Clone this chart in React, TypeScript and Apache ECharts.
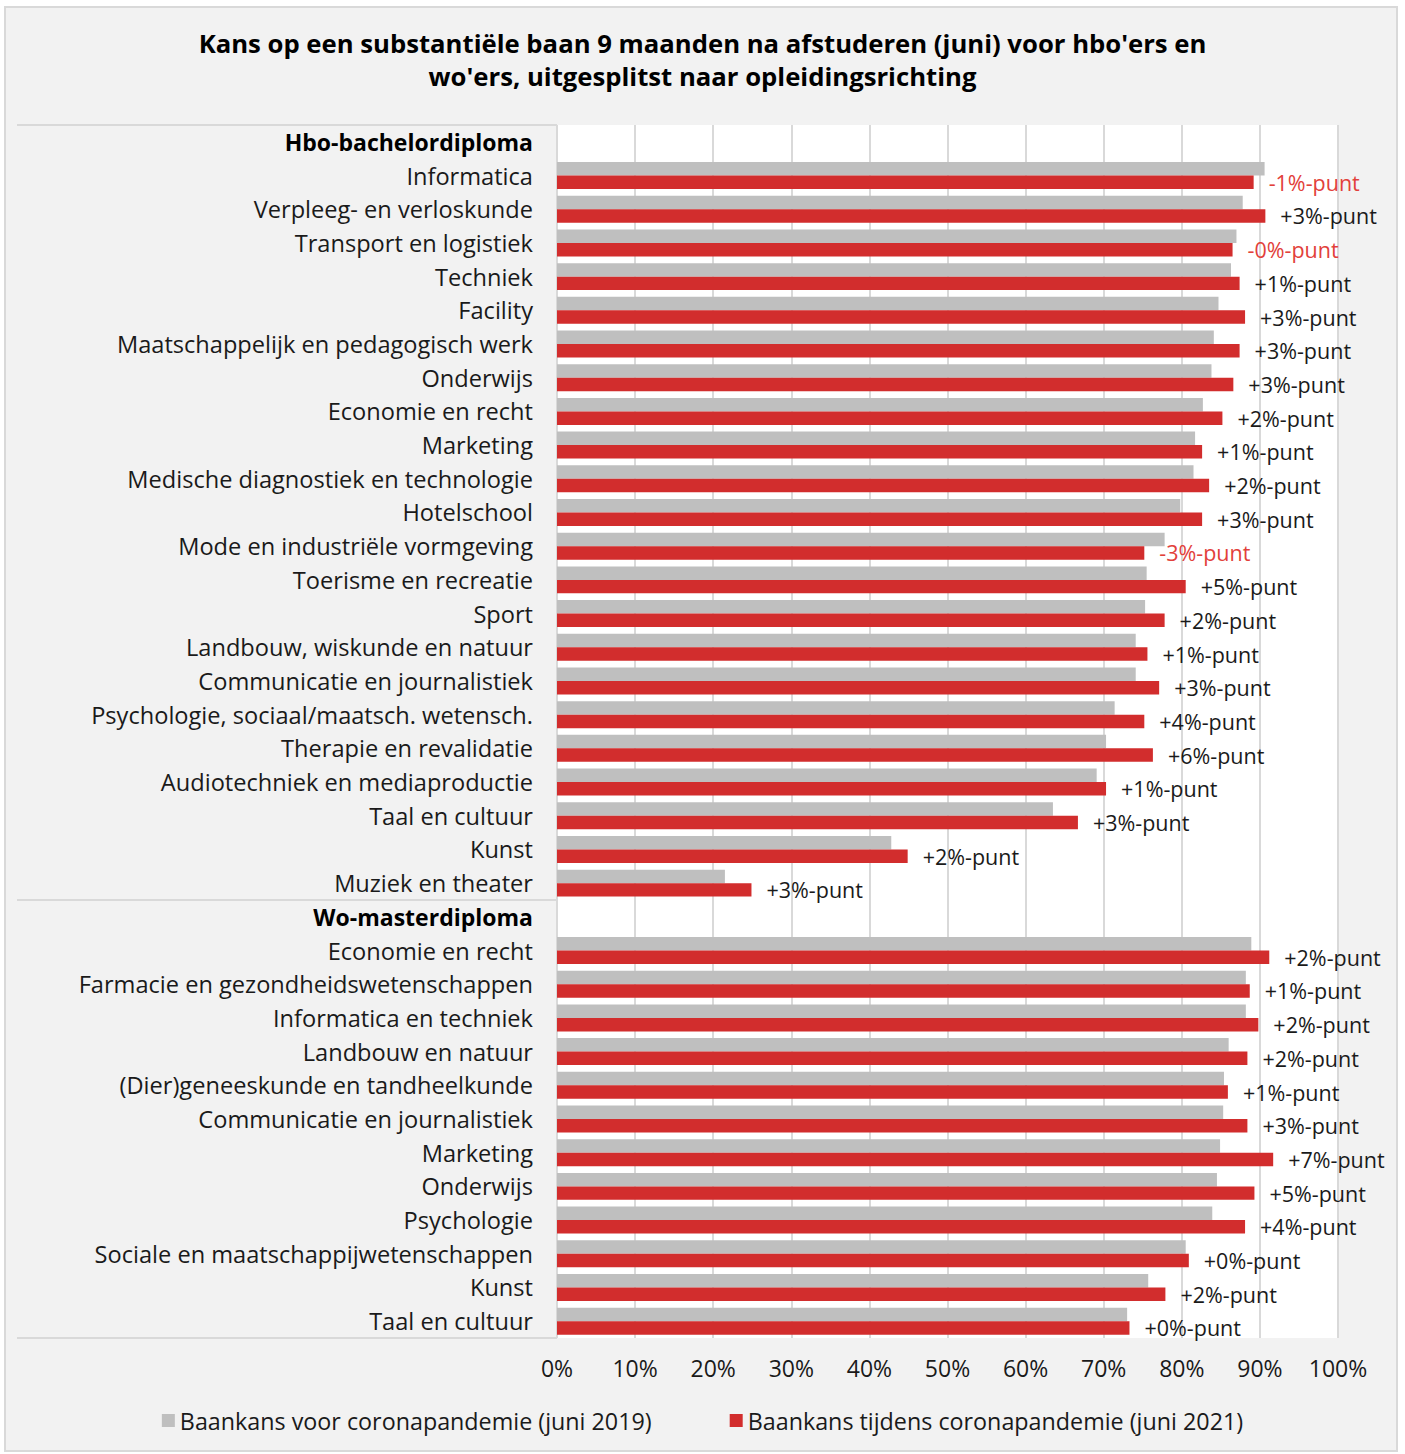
import React, { useEffect, useRef } from "react";
import * as echarts from "echarts";

const TITLE_LINES = [
  "Kans op een substantiële baan 9 maanden na afstuderen (juni) voor hbo'ers en",
  "wo'ers, uitgesplitst naar opleidingsrichting",
];

const HBO_HEADER = "Hbo-bachelordiploma";
const HBO_CATEGORIES = [
  "Informatica",
  "Verpleeg- en verloskunde",
  "Transport en logistiek",
  "Techniek",
  "Facility",
  "Maatschappelijk en pedagogisch werk",
  "Onderwijs",
  "Economie en recht",
  "Marketing",
  "Medische diagnostiek en technologie",
  "Hotelschool",
  "Mode en industriële vormgeving",
  "Toerisme en recreatie",
  "Sport",
  "Landbouw, wiskunde en natuur",
  "Communicatie en journalistiek",
  "Psychologie, sociaal/maatsch. wetensch.",
  "Therapie en revalidatie",
  "Audiotechniek en mediaproductie",
  "Taal en cultuur",
  "Kunst",
  "Muziek en theater",
];
const HBO_2019 = [90.6, 87.8, 87.0, 86.3, 84.7, 84.1, 83.8, 82.7, 81.7, 81.5, 79.8, 77.8, 75.5, 75.3, 74.1, 74.1, 71.4, 70.3, 69.1, 63.5, 42.8, 21.5];
const HBO_2021 = [89.2, 90.7, 86.5, 87.4, 88.1, 87.4, 86.6, 85.2, 82.6, 83.5, 82.6, 75.2, 80.5, 77.8, 75.6, 77.1, 75.2, 76.3, 70.3, 66.7, 44.9, 24.9];
const HBO_CHANGE = ["-1%-punt", "+3%-punt", "-0%-punt", "+1%-punt", "+3%-punt", "+3%-punt", "+3%-punt", "+2%-punt", "+1%-punt", "+2%-punt", "+3%-punt", "-3%-punt", "+5%-punt", "+2%-punt", "+1%-punt", "+3%-punt", "+4%-punt", "+6%-punt", "+1%-punt", "+3%-punt", "+2%-punt", "+3%-punt"];

const WO_HEADER = "Wo-masterdiploma";
const WO_CATEGORIES = [
  "Economie en recht",
  "Farmacie en gezondheidswetenschappen",
  "Informatica en techniek",
  "Landbouw en natuur",
  "(Dier)geneeskunde en tandheelkunde",
  "Communicatie en journalistiek",
  "Marketing",
  "Onderwijs",
  "Psychologie",
  "Sociale en maatschappijwetenschappen",
  "Kunst",
  "Taal en cultuur",
];
const WO_2019 = [88.9, 88.2, 88.2, 86.0, 85.4, 85.3, 84.9, 84.5, 83.9, 80.5, 75.7, 73.0];
const WO_2021 = [91.2, 88.7, 89.8, 88.4, 85.9, 88.4, 91.7, 89.3, 88.1, 80.9, 77.9, 73.3];
const WO_CHANGE = ["+2%-punt", "+1%-punt", "+2%-punt", "+2%-punt", "+1%-punt", "+3%-punt", "+7%-punt", "+5%-punt", "+4%-punt", "+0%-punt", "+2%-punt", "+0%-punt"];

const X_TICKS = [0, 10, 20, 30, 40, 50, 60, 70, 80, 90, 100];
const LEGEND_2019 = "Baankans voor coronapandemie (juni 2019)";
const LEGEND_2021 = "Baankans tijdens coronapandemie (juni 2021)";

const FONT = "Open Sans";
const GRAY = "#bfbfbf";
const RED = "#d22d2d";
const NEG_RED = "#e2403a";
const TEXT = "#1a1a1a";

export default function App() {
  const ref = useRef<HTMLDivElement>(null);
  useEffect(() => {
    if (!ref.current) return;
    const chart = echarts.init(ref.current, undefined, { renderer: "svg" });
    const categories = [HBO_HEADER, ...HBO_CATEGORIES, WO_HEADER, ...WO_CATEGORIES];
    const headers = new Set([0, HBO_CATEGORIES.length + 1]);
    const pre: any[] = ["-", ...HBO_2019, "-", ...WO_2019];
    const post: any[] = ["-", ...HBO_2021, "-", ...WO_2021];
    const changes: string[] = ["", ...HBO_CHANGE, "", ...WO_CHANGE];
    const postData = post.map((v, i) => ({
      value: v,
      label: { color: changes[i].startsWith("-") ? NEG_RED : TEXT },
    }));
    const sepY = [125, 900, 1338];
    chart.setOption({
      animation: false,
      backgroundColor: "#ffffff",
      textStyle: { fontFamily: FONT },
      graphic: [
        {
          type: "rect",
          z: -10,
          shape: { x: 5, y: 7, width: 1392, height: 1444 },
          style: { fill: "#f2f2f2", stroke: "#d9d9d9", lineWidth: 2 },
        },
        ...sepY.map((y) => ({
          type: "line",
          z: 5,
          shape: { x1: 17, y1: y, x2: 557, y2: y },
          style: { stroke: "#d9d9d9", lineWidth: 2 },
        })),
        ...TITLE_LINES.map((t, i) => ({
          type: "text",
          z: 10,
          x: 702.5,
          y: 43 + i * 33,
          style: {
            text: t,
            fill: "#000",
            font: `bold 25.7px "${FONT}"`,
            textAlign: "center",
            textVerticalAlign: "middle",
          },
        })),
      ],
      grid: {
        left: 557,
        right: 67,
        top: 125,
        bottom: 116,
        show: true,
        backgroundColor: "#ffffff",
        borderWidth: 0,
        containLabel: false,
      },
      legend: {
        top: 1404,
        left: "center",
        icon: "rect",
        itemWidth: 13,
        itemHeight: 13,
        itemGap: 78,
        textStyle: { fontFamily: FONT, fontSize: 23.3, color: TEXT },
        data: [LEGEND_2019, LEGEND_2021],
      },
      xAxis: {
        type: "value",
        min: X_TICKS[0],
        max: X_TICKS[X_TICKS.length - 1],
        interval: 10,
        axisLine: { show: false },
        axisTick: { show: false },
        splitLine: { show: true, lineStyle: { color: "#d9d9d9", width: 2 } },
        axisLabel: { formatter: "{value}%", fontSize: 23, color: TEXT, margin: 18, fontFamily: FONT },
      },
      yAxis: {
        type: "category",
        inverse: true,
        data: categories,
        axisLine: { show: false },
        axisTick: { show: false },
        splitLine: { show: false },
        axisLabel: {
          margin: 24,
          fontSize: 23.6,
          color: TEXT,
          fontFamily: FONT,
          formatter: (v: string, i: number) => (headers.has(i) ? `{h|${v}}` : v),
          rich: { h: { fontWeight: "bold", fontSize: 23, color: "#000", fontFamily: FONT } },
        },
      },
      series: [
        {
          name: LEGEND_2019,
          type: "bar",
          data: pre,
          itemStyle: { color: GRAY },
          barGap: "0%",
          barCategoryGap: "20%",
        },
        {
          name: LEGEND_2021,
          type: "bar",
          data: postData,
          itemStyle: { color: RED },
          barGap: "0%",
          barCategoryGap: "20%",
          label: {
            show: true,
            position: "right",
            distance: 15,
            fontSize: 21.5,
            fontFamily: FONT,
            formatter: (p: any) => changes[p.dataIndex],
          },
        },
      ],
    });
    return () => chart.dispose();
  }, []);
  return (
    <div
      ref={ref}
      style={{ position: "absolute", left: 0, top: 0, width: 1405, height: 1454 }}
    />
  );
}
